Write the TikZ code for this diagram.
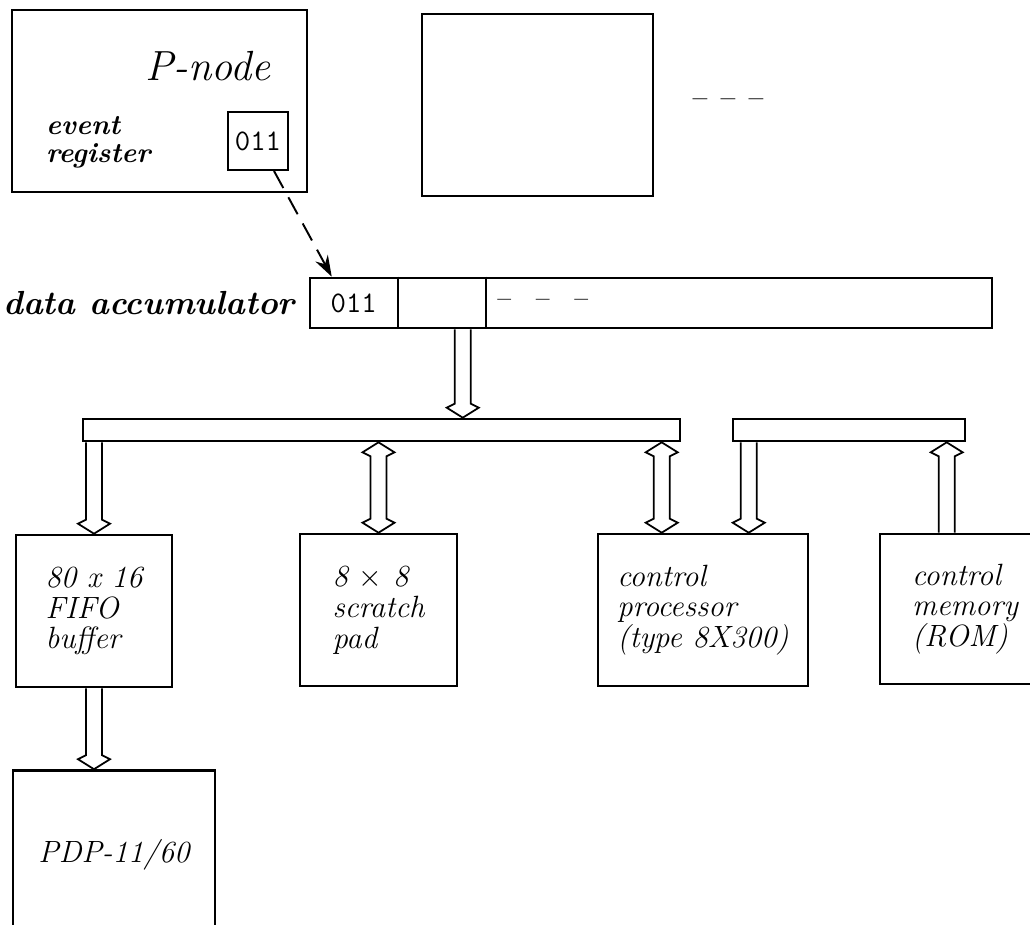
\documentclass[tikz,border=0pt]{standalone}
\usepackage{fontspec}
\usetikzlibrary{arrows.meta,positioning,calc}
\tikzset{
  blk/.style ={draw,line width=1.5pt,inner sep=0pt},
  reg/.style ={draw,line width=1.2pt,inner sep=0pt,minimum width=1.2cm,minimum height=1.16cm,
               font=\ttfamily\fontsize{17}{17}\selectfont},
  bus/.style ={draw,line width=1.5pt,inner sep=0pt,minimum height=0.44cm},
  lbl/.style ={font=\itshape\fontsize{17.5}{17.5}\selectfont,align=left},
  blbl/.style={font=\bfseries\itshape\fontsize{16}{16}\selectfont,align=left},
  ptr/.style ={line width=1.1pt,dash pattern=on 11pt off 6pt,-{Stealth[length=12pt,width=8pt]}},
  hdown/.style={line width=1pt,to path={
      ($(\tikztostart)+(-8,0)$) -- ($(\tikztotarget)+(-8,-14)$) -- ($(\tikztotarget)+(-16,-10)$)
      -- (\tikztotarget) -- ($(\tikztotarget)+(16,-10)$) -- ($(\tikztotarget)+(8,-14)$)
      -- ($(\tikztostart)+(8,0)$)}},
  hup/.style={line width=1pt,to path={
      ($(\tikztostart)+(-8,0)$) -- ($(\tikztotarget)+(-8,14)$) -- ($(\tikztotarget)+(-16,10)$)
      -- (\tikztotarget) -- ($(\tikztotarget)+(16,10)$) -- ($(\tikztotarget)+(8,14)$)
      -- ($(\tikztostart)+(8,0)$)}},
  hboth/.style={line width=1pt,to path={
      (\tikztostart) -- ($(\tikztostart)+(16,10)$) -- ($(\tikztostart)+(8,14)$)
      -- ($(\tikztotarget)+(8,-14)$) -- ($(\tikztotarget)+(16,-10)$) -- (\tikztotarget)
      -- ($(\tikztotarget)+(-16,-10)$) -- ($(\tikztotarget)+(-8,-14)$)
      -- ($(\tikztostart)+(-8,14)$) -- ($(\tikztostart)+(-16,10)$) -- (\tikztostart)}},
}

\begin{document}
\begin{tikzpicture}[x=0.02cm,y=-0.02cm]
\useasboundingbox (0,0) rectangle (1030,924);
\clip (0,0) rectangle (1030,924);

% P-nodes
\node[blk,minimum width=5.9cm,minimum height=3.64cm] (pnode) at (159.5,101) {};
\node[font=\itshape\fontsize{24}{24}\selectfont] (pname) at (208,66) {P-node};
\node[reg] (evreg) at (258,141) {011};
\node[blbl,anchor=west] (evlbl) at (40,142) {event\\register};
\node[blk,minimum width=4.62cm,minimum height=3.64cm] (pnode2) at (537.5,105) {};
\node[font=\bfseries\fontsize{15}{15}\selectfont] (pmore) at (728,103) {--\enspace--\enspace--};

% data accumulator
\node[blk,minimum width=13.64cm,minimum height=1cm] (acc) at (651,303) {};
\coordinate (accA) at ($(acc.north west)+(89,0)$);
\coordinate (accB) at ($(acc.north west)+(177,0)$);
\draw[line width=1.2pt] (accA) -- (accA |- acc.south);
\draw[line width=1.2pt] (accB) -- (accB |- acc.south);
\node[font=\ttfamily\fontsize{17}{17}\selectfont] (accv) at ($(acc.west)+(45,0)$) {011};
\node[font=\bfseries\fontsize{14}{14}\selectfont] (accmore) at ($(acc.west)+(234,0)$) {--\quad--\quad--};
\node[font=\bfseries\itshape\fontsize{19}{19}\selectfont,anchor=east] (acclbl) at ($(acc.west)+(-8,0)$) {data accumulator};

\coordinate (evout) at ($(evreg.south east)+(-15,0)$);
\coordinate (accin) at ($(acc.north west)+(23,0)$);
\draw[ptr] (evout) -- (accin);

% buses
\node[bus,minimum width=11.94cm] (bus1) at (381.5,430) {};
\node[bus,minimum width=4.64cm] (bus2) at (849,430) {};

% units
\node[blk,lbl,minimum width=3.12cm,minimum height=3.04cm] (fifo) at (94,611) {80 \textit{x} 16\\FIFO\\buffer};
\node[blk,lbl,minimum width=3.14cm,minimum height=3.04cm] (scratch) at (378.5,610) {8 $\times$ 8\\scratch\\pad};
\node[blk,lbl,minimum width=4.2cm,minimum height=3.04cm] (cproc) at (703,610) {control\\processor\\(type 8X300)};
\node[blk,lbl,minimum width=3.4cm,minimum height=3cm] (cmem) at (965,609) {control\\memory\\(ROM)};
\node[blk,lbl,minimum width=4.04cm,minimum height=3.38cm] (pdp) at (114,855) {PDP-11/60};

% bus arrows
\coordinate (a0t) at ($(acc.south west)+(154,0)$);
\coordinate (a0b) at (a0t |- bus1.north);
\coordinate (f1t) at (fifo.north |- bus1.south);
\coordinate (s1t) at (scratch.north |- bus1.south);
\coordinate (c1b) at ($(cproc.north west)+(65,0)$);
\coordinate (c1t) at (c1b |- bus1.south);
\coordinate (c2b) at ($(cproc.north west)+(152,0)$);
\coordinate (c2t) at (c2b |- bus2.south);
\coordinate (m1b) at ($(cmem.north west)+(68,0)$);
\coordinate (m1t) at (m1b |- bus2.south);
\coordinate (p1b) at (fifo.south |- pdp.north);

\draw[hdown] (a0t) to (a0b);
\draw[hdown] (f1t) to (fifo.north);
\draw[hboth] (s1t) to (scratch.north);
\draw[hboth] (c1t) to (c1b);
\draw[hdown] (c2t) to (c2b);
\draw[hup] (m1b) to (m1t);
\draw[hdown] (fifo.south) to (p1b);
\end{tikzpicture}
\end{document}
